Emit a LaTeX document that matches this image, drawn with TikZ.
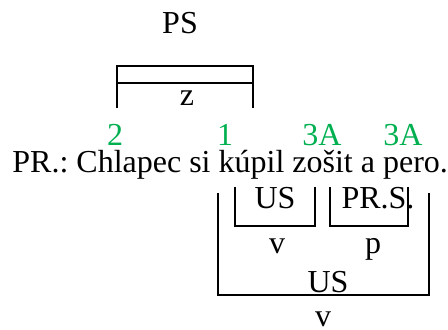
\documentclass[tikz,border=0pt]{standalone}
\usepackage{fontspec}
\setmainfont{Liberation Serif}
\definecolor{numgreen}{RGB}{0,176,80}
\tikzset{
  lbl/.style={anchor=base, inner sep=0pt, font=\fontsize{16}{19}\selectfont},
  num/.style={lbl, text=numgreen},
  brk/.style={line width=0.9pt}
}
\begin{document}
\frenchspacing
\begin{tikzpicture}[x=0.5pt,y=-0.5pt]
\useasboundingbox (0,0) rectangle (448,329);
% subject group above the sentence
\node[lbl] (PS) at (180,33) {PS};
\draw[brk] (117,108) -- (117,66) -- (253,66) -- (253,108);
\draw[brk] (117,83) -- (253,83);
\node[lbl] (z) at (187,105) {z};
% numbers over the words
\node[num] (n2) at (115,145) {2};
\node[num] (n1) at (225,145) {1};
\node[num] (n3a) at (322,145) {3A};
\node[num] (n3b) at (403,145) {3A};
% the sentence
\node[lbl, anchor=base west] (sent) at (12,172) {PR.: Chlapec si kúpil zošit a pero.};
% predicate group below
\draw[brk] (235,187) -- (235,226) -- (315,226) -- (315,187);
\node[lbl] (US1) at (275,208) {US};
\node[lbl] (v1) at (277,253) {v};
\draw[brk] (330,187) -- (330,226) -- (408,226) -- (408,187);
\node[lbl] (PRS) at (378,208) {PR.S.};
\node[lbl] (p) at (373,253) {p};
\draw[brk] (218,193) -- (218,295) -- (429,295) -- (429,193);
\node[lbl] (US2) at (328,292) {US};
\node[lbl] (v2) at (323,326) {v};
\end{tikzpicture}
\end{document}
